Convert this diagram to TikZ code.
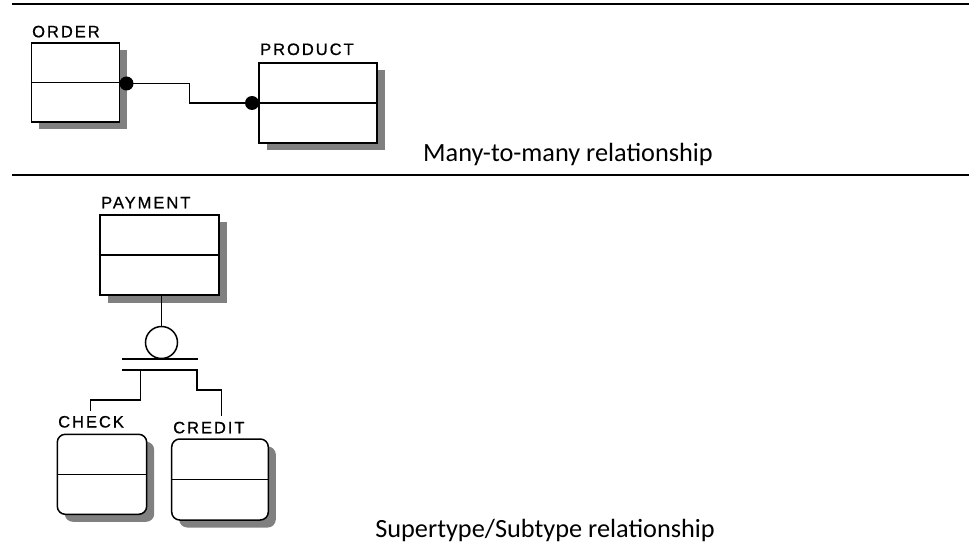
\documentclass[tikz,border=0pt]{standalone}
\usepackage{fontspec}
\newfontfamily\calib{Carlito}
\newfontfamily\erfont[LetterSpace=12,FakeBold=0.8]{Liberation Sans}
\usetikzlibrary{shadows,calc}
\begin{document}
\begin{tikzpicture}[x=1pt,y=-1pt,
  ent/.style={draw, line width=1.5pt, fill=white, rectangle, inner sep=0pt,
    drop shadow={shadow xshift=7.5pt, shadow yshift=-7.5pt, fill=black!50, opacity=1}},
  rent/.style={ent, rounded corners=8pt},
  divline/.style={line width=1.5pt},
  lbl/.style={anchor=base west, inner sep=0pt, font=\erfont\fontsize{16.5}{19}\selectfont},
  captxt/.style={inner sep=0pt, font=\calib\fontsize{26.3}{30}\selectfont},
  rulestyle/.style={line width=2.4pt},
  conn/.style={line width=1.5pt},
  dotend/.style={circle, fill=black, inner sep=0pt, minimum size=14pt}
]
\useasboundingbox (0,0) rectangle (969,556);

% horizontal rules
\coordinate (r1a) at (12,4);   \coordinate (r1b) at (969,4);
\coordinate (r2a) at (12,175); \coordinate (r2b) at (969,175);
\draw[rulestyle] (r1a) -- (r1b);
\draw[rulestyle] (r2a) -- (r2b);

% many-to-many
\node[ent, minimum width=88pt, minimum height=79pt] (order) at (75.5,82.5) {};
\draw[divline] (order.west) -- (order.east);
\node[lbl] (orderl) at (32,37.3) {ORDER};

\node[ent, minimum width=118pt, minimum height=80pt] (product) at (318,103) {};
\draw[divline] (product.west) -- (product.east);
\node[lbl] (productl) at (260,55) {PRODUCT};

\node[dotend] (d1) at (126.5,83.5) {};
\node[dotend] (d2) at (252,103) {};
\draw[conn] (d1.center) -| ($(d1)!0.5!(d2)$) |- (d2.center);

\node[captxt, anchor=base west] (t1) at (423,162) {Many-to-many relationship};

% supertype / subtype
\node[ent, minimum width=119pt, minimum height=80pt] (payment) at (159.5,255) {};
\draw[divline] (payment.west) -- (payment.east);
\node[lbl] (paymentl) at (101,208.3) {PAYMENT};

\node[circle, draw, line width=1.5pt, minimum size=32pt, inner sep=0pt] (circ) at (161.5,342.5) {};
\draw[conn] (circ.north) -- (circ.north |- payment.south);

\coordinate (b1l) at (122,359); \coordinate (b1r) at (198,359);
\draw[conn] (b1l) -- (b1r);
\coordinate (b2l) at (122,370); \coordinate (b2r) at (197,370);
\coordinate (bj) at (140.7,370);
\coordinate (crdtop) at (221.7,416);
\coordinate (chktop) at (90.7,411);
\draw[conn] (b2l) -- (b2r) -- ++(0,20) -| (crdtop);
\draw[conn] (bj) -- ++(0,30) -| (chktop);

\node[rent, minimum width=89.4pt, minimum height=80pt] (check) at (102,474.3) {};
\draw[divline] (check.west) -- (check.east);
\node[lbl] (checkl) at (58,427.5) {CHECK};

\node[rent, minimum width=96.6pt, minimum height=81pt] (credit) at (220,479.5) {};
\draw[divline] (credit.west) -- (credit.east);
\node[lbl] (creditl) at (173,433.3) {CREDIT};

\node[captxt, anchor=base east] (t2) at (715,537) {Supertype/Subtype relationship};
\end{tikzpicture}
\end{document}
